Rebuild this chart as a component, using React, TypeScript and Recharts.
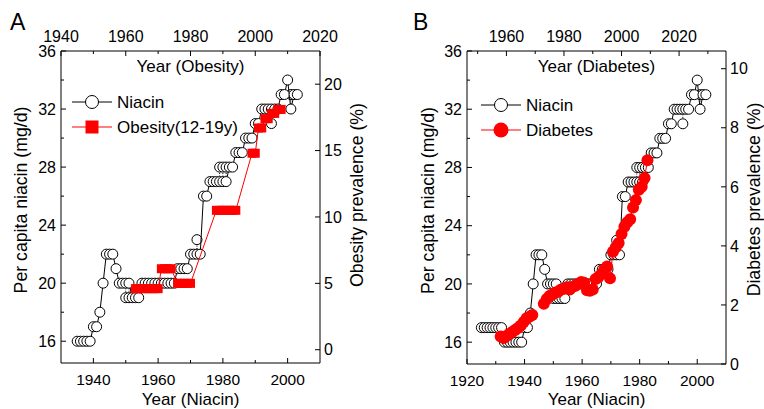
import React from 'react';
import { ComposedChart, ReferenceLine, Scatter, XAxis, YAxis } from 'recharts';

const FONT = '"Liberation Sans", Arial, Helvetica, sans-serif';
const RED = '#ff0000';

// per capita niacin supply (mg/d), one reading per year
const niacinYears = [
  1925, 1926, 1927, 1928, 1929, 1930, 1931, 1932, 1933, 1934, 1935, 1936, 1937, 1938, 1939,
  1940, 1941, 1942, 1943, 1944, 1945, 1946, 1947, 1948, 1949, 1950, 1951, 1952, 1953, 1954,
  1955, 1956, 1957, 1958, 1959, 1960, 1961, 1962, 1963, 1964, 1965, 1966, 1967, 1968, 1969,
  1970, 1971, 1972, 1973, 1974, 1975, 1976, 1977, 1978, 1979, 1980, 1981, 1982, 1983, 1984,
  1985, 1986, 1987, 1988, 1989, 1990, 1991, 1992, 1993, 1994, 1995, 1996, 1997, 1998, 1999,
  2000, 2001, 2002, 2003,
];
const niacinValues = [
  17, 17, 17, 17, 17, 17, 17, 17, 16, 16, 16, 16, 16, 16, 16,
  17, 17, 18, 20, 22, 22, 22, 21, 20, 20, 20, 20, 19, 19, 19,
  20, 20, 20, 20, 20, 20, 20, 20, 20, 20, 20, 21, 21, 21, 21,
  22, 22, 22, 22, 26, 26, 27, 27, 27, 27, 27, 27, 28, 28, 29,
  29, 29, 30, 30, 30, 31, 31, 32, 32, 32, 32, 32, 32, 33, 33,
  34, 32, 33, 33,
];
// years with a second niacin reading (dotted link to the main one)
const niacinAltYears = [1950, 1951, 1972, 1979, 1980, 1981, 1995, 2001];
const niacinAltValues = [19, 19, 23, 28, 28, 28, 31, 33];
const obesityPanelFirstYear = 1935;

// obesity prevalence 12-19y (%), by survey period
const obesityStart = [1963, 1971, 1976, 1988, 1999, 2001, 2003, 2005, 2007];
const obesityEnd = [1970, 1974, 1980, 1994, 2000, 2002, 2004, 2006, 2008];
const obesityValues = [4.6, 6.1, 5.0, 10.5, 14.8, 16.7, 17.4, 17.8, 18.1];

// diagnosed diabetes prevalence (%)
const diabetesYears = [
  1958, 1959, 1960, 1961, 1962, 1963, 1964, 1965, 1966, 1967, 1968, 1969,
  1973, 1974, 1975, 1976, 1977, 1978, 1979, 1980, 1981, 1982, 1983, 1984, 1985, 1986,
  1987, 1988, 1989, 1990, 1991, 1992, 1993, 1994, 1995, 1996, 1997, 1998, 1999, 2000,
  2001, 2002, 2003, 2004, 2005, 2006, 2007, 2008, 2009,
];
const diabetesValues = [
  0.93, 0.88, 0.95, 1.02, 1.08, 1.15, 1.22, 1.3, 1.42, 1.55, 1.6, 1.66,
  2.04, 2.2, 2.3, 2.35, 2.42, 2.45, 2.52, 2.55, 2.6, 2.52, 2.62, 2.65, 2.72, 2.78,
  2.75, 2.5, 2.48, 2.52, 2.88, 2.95, 3.05, 3.2, 3.3, 2.9, 3.8, 3.95, 4.1, 4.4,
  4.65, 4.8, 4.9, 5.3, 5.55, 5.9, 6.0, 6.3, 6.9,
];

// ticks
const niacinMajor = [16, 20, 24, 28, 32, 36];
const niacinMinor = [18, 22, 26, 30, 34];
const niacinYearMajorA = [1940, 1960, 1980, 2000];
const niacinYearMinorA = [1950, 1970, 1990];
const obesityYearMajor = [1940, 1960, 1980, 2000, 2020];
const obesityYearMinor = [1950, 1970, 1990, 2010];
const obesityMajor = [0, 5, 10, 15, 20];
const niacinYearMajorB = [1920, 1940, 1960, 1980, 2000];
const niacinYearMinorB = [1930, 1950, 1970, 1990];
const diabetesYearMajor = [1960, 1980, 2000, 2020];
const diabetesYearMinor = [1950, 1970, 1990, 2010, 2030];
const diabetesMajor = [0, 2, 4, 6, 8, 10];

type Pt = { x: number; y: number };

const toPoints = (xs: number[], ys: number[]): Pt[] => xs.map((x, i) => ({ x, y: ys[i] }));

const niacinAll = toPoints(niacinYears, niacinValues);
const niacinAlt = toPoints(niacinAltYears, niacinAltValues);
const niacinA = niacinAll.filter((p) => p.x >= obesityPanelFirstYear);

const obesityPoints: Pt[] = [];
obesityStart.forEach((start, i) => {
  for (let yr = start; yr <= obesityEnd[i]; yr++) obesityPoints.push({ x: yr, y: obesityValues[i] });
});

// break the diabetes line where survey years are missing
const diabetesSegments: Pt[][] = [];
toPoints(diabetesYears, diabetesValues).forEach((p, i) => {
  if (i === 0 || p.x - diabetesYears[i - 1] > 1) diabetesSegments.push([]);
  diabetesSegments[diabetesSegments.length - 1].push(p);
});

const withMinor = (major: number[], minor: number[]) => [...major, ...minor].sort((a, b) => a - b);

type Side = 'left' | 'right' | 'top' | 'bottom';

function axisTick(side: Side, majors: number[]) {
  return function Tick(props: any) {
    const { x, y, payload } = props;
    const v = payload.value;
    const isMajor = majors.includes(v);
    const len = isMajor ? 5 : 3;
    const textProps = { fontFamily: FONT, fontSize: 16, fill: '#000' };
    if (side === 'left') {
      return (
        <g>
          <line x1={x} y1={y} x2={x + len} y2={y} stroke="#000" />
          {isMajor && <text x={x - 5} y={y + 5.7} textAnchor="end" {...textProps}>{v}</text>}
        </g>
      );
    }
    if (side === 'right') {
      return (
        <g>
          <line x1={x} y1={y} x2={x - len} y2={y} stroke="#000" />
          {isMajor && <text x={x + 4} y={y + 5.7} textAnchor="start" {...textProps}>{v}</text>}
        </g>
      );
    }
    if (side === 'bottom') {
      return (
        <g>
          <line x1={x} y1={y} x2={x} y2={y - len} stroke="#000" />
          {isMajor && <text x={x} y={y + 22} textAnchor="middle" {...textProps} fontSize={15.5}>{v}</text>}
        </g>
      );
    }
    return (
      <g>
        <line x1={x} y1={y} x2={x} y2={y + len} stroke="#000" />
        {isMajor && <text x={x} y={y - 9.5} textAnchor="middle" {...textProps}>{v}</text>}
      </g>
    );
  };
}

const OpenCircle = (p: any) => <circle cx={p.cx} cy={p.cy} r={5} fill="#fff" stroke="#000" strokeWidth={1} />;
const RedSquare = (p: any) => <rect x={p.cx - 4.5} y={p.cy - 4.5} width={9} height={9} fill={RED} />;
const RedDot = (p: any) => <circle cx={p.cx} cy={p.cy} r={6} fill={RED} />;

const titleStyle = { fontFamily: FONT, fontSize: 17, fill: '#000' };
const sideTitleStyle = { fontFamily: FONT, fontSize: 17.7, fill: '#000' };
const axisProps = {
  type: 'number' as const,
  allowDataOverflow: true,
  interval: 0 as const,
  tickSize: 0,
  tickMargin: 0,
  tickLine: false,
  axisLine: { stroke: '#000', strokeWidth: 1 },
};

// dotted links between the two readings of a year, stopped at the circle rims
function altLinks(xAxisId: string, minYear: number) {
  const gap = 0.35;
  return niacinAlt
    .filter((p) => p.x >= minYear)
    .map((p) => {
      const main = niacinValues[niacinYears.indexOf(p.x)];
      const dir = p.y > main ? 1 : -1;
      return (
        <ReferenceLine
          key={`alt-${p.x}`}
          xAxisId={xAxisId}
          yAxisId="niacin"
          segment={[{ x: p.x, y: main + dir * gap }, { x: p.x, y: p.y - dir * gap }]}
          stroke="#000"
          strokeDasharray="1 1.5"
          ifOverflow="visible"
        />
      );
    });
}

function ObesityPanel() {
  return (
    <ComposedChart width={380} height={409} margin={{ top: 0, right: 0, bottom: 0, left: 0 }}>
      <XAxis
        {...axisProps}
        xAxisId="niacinYear"
        orientation="bottom"
        dataKey="x"
        height={46}
        domain={[1930, 2010]}
        ticks={withMinor(niacinYearMajorA, niacinYearMinorA)}
        tick={axisTick('bottom', niacinYearMajorA)}
        label={{ value: 'Year (Niacin)', position: 'insideBottom', offset: 4, ...titleStyle }}
      />
      <XAxis
        {...axisProps}
        xAxisId="obesityYear"
        orientation="top"
        dataKey="x"
        height={51}
        domain={[1940, 2020]}
        ticks={withMinor(obesityYearMajor, obesityYearMinor)}
        tick={axisTick('top', obesityYearMajor)}
        label={{ value: 'Year (Obesity)', position: 'bottom', offset: 9, ...titleStyle }}
      />
      <YAxis
        {...axisProps}
        yAxisId="niacin"
        orientation="left"
        dataKey="y"
        width={61}
        domain={[14.5, 36]}
        ticks={withMinor(niacinMajor, niacinMinor)}
        tick={axisTick('left', niacinMajor)}
        label={{ value: 'Per capita niacin (mg/d)', angle: -90, position: 'center', dx: -10, dy: -7, ...sideTitleStyle }}
      />
      <YAxis
        {...axisProps}
        yAxisId="obesity"
        orientation="right"
        dataKey="y"
        width={60}
        domain={[-1, 22.5]}
        ticks={obesityMajor}
        tick={axisTick('right', obesityMajor)}
        label={{ value: 'Obesity prevalence (%)', angle: -90, position: 'center', dx: 7, dy: -12, ...sideTitleStyle }}
      />
      {altLinks('niacinYear', obesityPanelFirstYear)}
      <Scatter
        data={niacinAlt.filter((p) => p.x >= obesityPanelFirstYear)}
        xAxisId="niacinYear"
        yAxisId="niacin"
        shape={OpenCircle}
        isAnimationActive={false}
      />
      <Scatter
        data={niacinA}
        xAxisId="niacinYear"
        yAxisId="niacin"
        line={{ stroke: '#000', strokeWidth: 1 }}
        lineType="joint"
        shape={OpenCircle}
        isAnimationActive={false}
      />
      <Scatter
        data={obesityPoints}
        xAxisId="obesityYear"
        yAxisId="obesity"
        line={{ stroke: RED, strokeWidth: 1 }}
        lineType="joint"
        shape={RedSquare}
        isAnimationActive={false}
      />
    </ComposedChart>
  );
}

function DiabetesPanel() {
  return (
    <ComposedChart width={384} height={409} margin={{ top: 0, right: 0, bottom: 0, left: 0 }}>
      <XAxis
        {...axisProps}
        xAxisId="niacinYear"
        orientation="bottom"
        dataKey="x"
        height={45}
        domain={[1920, 2010]}
        ticks={withMinor(niacinYearMajorB, niacinYearMinorB)}
        tick={axisTick('bottom', niacinYearMajorB)}
        label={{ value: 'Year (Niacin)', position: 'insideBottom', offset: 4, ...titleStyle }}
      />
      <XAxis
        {...axisProps}
        xAxisId="diabetesYear"
        orientation="top"
        dataKey="x"
        height={51}
        domain={[1946.3, 2036.3]}
        ticks={withMinor(diabetesYearMajor, diabetesYearMinor)}
        tick={axisTick('top', diabetesYearMajor)}
        label={{ value: 'Year (Diabetes)', position: 'bottom', offset: 9, ...titleStyle }}
      />
      <YAxis
        {...axisProps}
        yAxisId="niacin"
        orientation="left"
        dataKey="y"
        width={87}
        domain={[14.5, 36]}
        ticks={withMinor(niacinMajor, niacinMinor)}
        tick={axisTick('left', niacinMajor)}
        label={{ value: 'Per capita niacin (mg/d)', angle: -90, position: 'center', dx: 4, dy: -7, ...sideTitleStyle }}
      />
      <YAxis
        {...axisProps}
        yAxisId="diabetes"
        orientation="right"
        dataKey="y"
        width={38}
        domain={[0, 10.6]}
        ticks={diabetesMajor}
        tick={axisTick('right', diabetesMajor)}
        label={{ value: 'Diabetes prevalence (%)', angle: -90, position: 'center', dx: 9, dy: -8, ...sideTitleStyle }}
      />
      {altLinks('niacinYear', 0)}
      <Scatter data={niacinAlt} xAxisId="niacinYear" yAxisId="niacin" shape={OpenCircle} isAnimationActive={false} />
      <Scatter
        data={niacinAll}
        xAxisId="niacinYear"
        yAxisId="niacin"
        line={{ stroke: '#000', strokeWidth: 1 }}
        lineType="joint"
        shape={OpenCircle}
        isAnimationActive={false}
      />
      {diabetesSegments.map((seg, i) => (
        <Scatter
          key={`diab-${i}`}
          data={seg}
          xAxisId="diabetesYear"
          yAxisId="diabetes"
          line={{ stroke: RED, strokeWidth: 1 }}
          lineType="joint"
          shape={RedDot}
          isAnimationActive={false}
        />
      ))}
    </ComposedChart>
  );
}

function LegendRow({ y, label, color, marker }: { y: number; label: string; color: string; marker: React.ReactNode }) {
  return (
    <g>
      <line x1={0} y1={y} x2={40} y2={y} stroke={color} strokeWidth={1} />
      {marker}
      <text x={45} y={y + 6} fontFamily={FONT} fontSize={17} fill="#000">
        {label}
      </text>
    </g>
  );
}

export default function App() {
  return (
    <div style={{ position: 'absolute', left: 0, top: 0, width: 764, height: 409, background: '#fff' }}>
      <div style={{ position: 'absolute', left: 0, top: 0 }}>
        <ObesityPanel />
      </div>
      <div style={{ position: 'absolute', left: 380, top: 0 }}>
        <DiabetesPanel />
      </div>
      <div style={{ position: 'absolute', left: 10, top: 8, fontFamily: FONT, fontSize: 23, lineHeight: '28px' }}>A</div>
      <div style={{ position: 'absolute', left: 413, top: 8, fontFamily: FONT, fontSize: 23, lineHeight: '28px' }}>B</div>
      <svg style={{ position: 'absolute', left: 72, top: 90 }} width={200} height={50}>
        <LegendRow
          y={12}
          label="Niacin"
          color="#000"
          marker={<circle cx={20} cy={12} r={6.5} fill="#fff" stroke="#000" />}
        />
        <LegendRow
          y={37}
          label="Obesity(12-19y)"
          color={RED}
          marker={<rect x={13.5} y={30.5} width={13} height={13} fill={RED} />}
        />
      </svg>
      <svg style={{ position: 'absolute', left: 481, top: 93 }} width={160} height={50}>
        <LegendRow
          y={12}
          label="Niacin"
          color="#000"
          marker={<circle cx={20} cy={12} r={6.5} fill="#fff" stroke="#000" />}
        />
        <LegendRow
          y={37}
          label="Diabetes"
          color={RED}
          marker={<circle cx={20} cy={37} r={7.5} fill={RED} />}
        />
      </svg>
    </div>
  );
}
